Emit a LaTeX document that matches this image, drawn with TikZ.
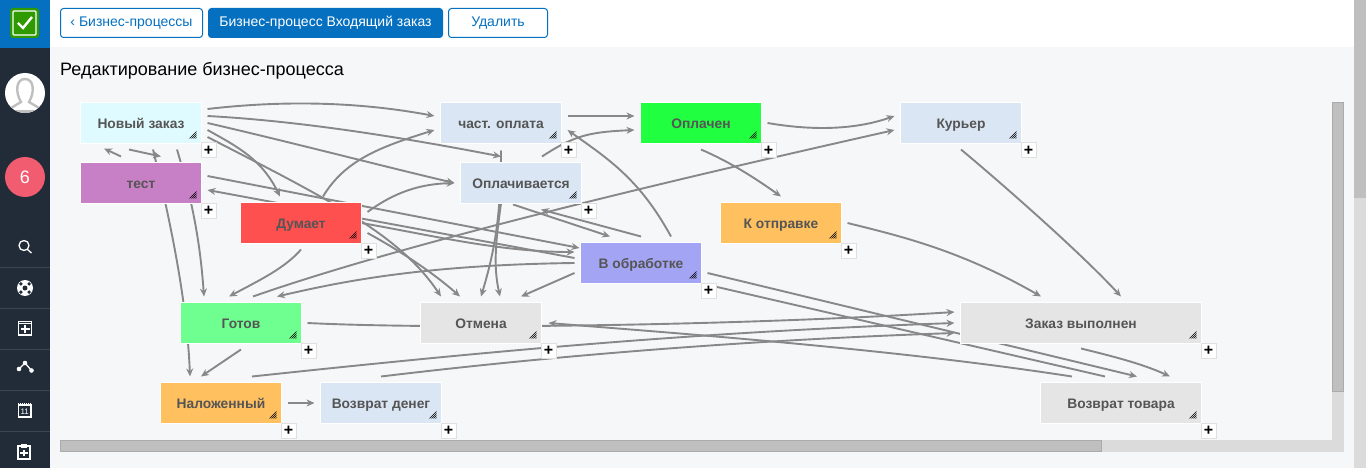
\documentclass[tikz,border=0pt]{standalone}
\usepackage{fontspec}
\setmainfont{Liberation Sans}
\usepackage{xcolor}
\usetikzlibrary{arrows.meta}

\definecolor{sidebar}{HTML}{222C38}
\definecolor{brand}{HTML}{0570C0}
\definecolor{panelbg}{HTML}{F6F7F9}
\definecolor{flowgray}{HTML}{888888}
\definecolor{labelgray}{HTML}{555555}
\definecolor{lightblue}{HTML}{DAE6F4}
\definecolor{lightcyan}{HTML}{E0FBFF}
\definecolor{lightgray}{HTML}{E5E5E5}
\definecolor{orange}{HTML}{FFC060}
\definecolor{violet}{HTML}{C77FC5}
\definecolor{redstate}{HTML}{FF5050}
\definecolor{greenpaid}{HTML}{20FF40}
\definecolor{greenready}{HTML}{6FFF90}
\definecolor{periwinkle}{HTML}{A4A4F4}
\definecolor{logogreen}{HTML}{2F9A00}
\definecolor{badgered}{HTML}{F25C70}

\pgfdeclarelayer{panel}
\pgfdeclarelayer{edges}
\pgfsetlayers{panel,edges,main}

\tikzset{
    proc/.style={draw=white, line width=1pt, fill=#1, inner sep=0pt, outer sep=0pt,
        minimum width=121pt, minimum height=41pt, text=labelgray, text height=12pt, text depth=1pt,
        font=\fontsize{13.8}{16}\selectfont\bfseries},
    plusbox/.style={draw=black!12, line width=1pt, fill=white, inner sep=0pt, outer sep=0pt,
        minimum width=15pt, minimum height=15pt, text=black,
        font=\fontsize{16}{16}\selectfont\bfseries},
    btn/.style={draw=brand, line width=1pt, rounded corners=3pt, fill=white, text=brand,
        minimum height=29pt, inner sep=0pt, outer sep=0pt, font=\fontsize{14}{16}\selectfont},
    flow/.style={->, >={Stealth[length=8pt,width=7pt]}, draw=flowgray, line width=1.9pt},
    bar/.style={fill=black!25, draw=black!33, line width=1pt},
    track/.style={fill=black!14},
    icon/.style={draw=white, line width=1.3pt}
}

\begin{document}
\begin{tikzpicture}[x=1pt, y=-1pt]
    \useasboundingbox (0,0) rectangle (1366,468);

    % page
    \begin{pgfonlayer}{panel}
        \fill[panelbg] (0,0) rectangle (1366,468);
        \fill[white] (50,0) rectangle (1354,47);
        \fill[sidebar] (0,0) rectangle (50,468);
        \fill[brand] (0,0) rectangle (50,48);
        \fill[track] (1354,0) rectangle (1366,468);
        \fill[black!25] (1354,0) rectangle (1366,198);
        \fill[track] (1332,102) rectangle (1344,452);
        \fill[track] (60,440) rectangle (1344,452);
        \filldraw[bar] (1332.5,102.5) rectangle (1343.5,391);
        \filldraw[bar] (60.5,440.5) rectangle (1101,451.5);
    \end{pgfonlayer}

    % sidebar
    \fill[logogreen, rounded corners=3pt] (10,8) rectangle (39,38);
    \draw[white, line width=1.2pt, rounded corners=1pt] (13,11) rectangle (36,35);
    \draw[white, line width=2.4pt] (18,23) -- (23,28) -- (32,17);
    \fill[white] (25,93) circle (20);
    \begin{scope}
        \clip (25,93) circle (20);
        \draw[black!25, line width=2.4pt] (11,108) -- (21,102) .. controls (15,92) and (16,79) .. (25,79)
            .. controls (34,79) and (35,92) .. (29,102) -- (39,108);
        \fill[black!25] (5,110) rectangle (45,113);
    \end{scope}
    \fill[badgered] (25,177) circle (20);
    \node (badge) [text=white, font=\fontsize{18}{20}\selectfont] at (25,177) {6};
    \foreach \y in {267,308,349,390,431}
        \draw[white!12!sidebar, line width=1pt] (0,\y) -- (50,\y);
    \draw[icon] (24,245.5) circle (5) (27.5,249.5) -- (31.5,253);
    \fill[white] (25,288) circle (8);
    \fill[sidebar] (25,288) circle (2.5);
    \foreach \a in {45,135,225,315}
        \fill[sidebar] (25,288) ++(\a:5.8) circle (1.9);
    \draw[icon] (18.5,321.5) rectangle (31.5,335) (18.5,323.5) -- (31.5,323.5);
    \draw[white, line width=2pt] (20.5,329) -- (29.5,329) (25,325) -- (25,333);
    \draw[icon] (19,369) -- (25,363) -- (31.5,370.5);
    \fill[white] (19,369) circle (2.3) (25,363) circle (2.3) (31.5,370.5) circle (2.3);
    \draw[icon] (18.5,405) rectangle (31,417);
    \draw[white, line width=2pt, dash pattern=on 1pt off 1pt] (18,404) -- (31,404);
    \node (calday) [text=white, inner sep=0pt, font=\fontsize{8}{9}\selectfont] at (24.7,411.5) {11};
    \draw[icon] (18,446) rectangle (30,459);
    \fill[white] (21,444) rectangle (27,448);
    \draw[white, line width=2pt] (20,453) -- (28,453) (24,450) -- (24,456);

    % header
    \node (backbtn) [btn, minimum width=142pt] at (131.5,23) {‹ Бизнес-процессы};
    \node (procbtn) [btn, minimum width=234pt, fill=brand, text=white] at (325.5,23) {Бизнес-процесс Входящий заказ};
    \node (delbtn) [btn, minimum width=99pt] at (498,23) {Удалить};
    \node (title) [anchor=west, inner sep=0pt, text height=14pt, text depth=4pt, font=\fontsize{18}{20}\selectfont] at (60,71) {Редактирование бизнес-процесса};

    % states
    \node (new) [proc=lightcyan] at (141,123) {Новый заказ};
    \node (test) [proc=violet] at (141,183) {тест};
    \node (thinks) [proc=redstate] at (301,223) {Думает};
    \node (partpay) [proc=lightblue] at (501,123) {част. оплата};
    \node (paying) [proc=lightblue] at (521,183) {Оплачивается};
    \node (paid) [proc=greenpaid] at (701,123) {Оплачен};
    \node (courier) [proc=lightblue] at (961,123) {Курьер};
    \node (toship) [proc=orange] at (781,223) {К отправке};
    \node (processing) [proc=periwinkle] at (641,263) {В обработке};
    \node (ready) [proc=greenready] at (241,323) {Готов};
    \node (cancel) [proc=lightgray] at (481,323) {Отмена};
    \node (done) [proc=lightgray, minimum width=241pt] at (1081,323) {Заказ выполнен};
    \node (cod) [proc=orange] at (221,403) {Наложенный};
    \node (refund) [proc=lightblue] at (381,403) {Возврат денег};
    \node (returned) [proc=lightgray, minimum width=161pt] at (1121,403) {Возврат товара};

    % resize grip and add button of every state
    \foreach \s in {new,test,thinks,partpay,paying,paid,courier,toship,processing,ready,cancel,done,cod,refund,returned} {
        \foreach \i in {0,2,4,6}
            \draw[black, line width=0.6pt] ([shift={(-12+\i,-5)}]\s.south east) -- ([shift={(-5,-12+\i)}]\s.south east);
        \node (\s plus) [plusbox] at ([shift={(7,7)}]\s.south east) {+};
    }

    % transitions
    \begin{pgfonlayer}{edges}
        \draw[flow] ([shift={(6,-14)}]new.east) .. controls (285,100) and (360,102) .. ([shift={(-6,-7)}]partpay.west);
        \draw[flow] ([shift={(6,-7)}]new.east) .. controls (300,121) and (400,137) .. ([shift={(0,13)}]partpay.south);
        \draw[flow] ([shift={(6,0)}]new.east) .. controls (290,142) and (390,168) .. ([shift={(-6,0)}]paying.west);
        \draw[flow] ([shift={(6,7)}]new.east) .. controls (240,148) and (262,160) .. ([shift={(-21,-6)}]thinks.north);
        \draw[flow] ([shift={(6,14)}]new.east) .. controls (330,200) and (400,235) .. ([shift={(-40,-6)}]cancel.north);
        \draw[flow] ([shift={(-12,6)}]new.south) -- ([shift={(20,-6)}]test.north);
        \draw[flow] ([shift={(-20,-6)}]test.north) -- ([shift={(-37,5)}]new.south);
        \draw[flow] ([shift={(12,6)}]new.south) .. controls (170,220) and (187,300) .. ([shift={(-31,-6)}]cod.north);
        \draw[flow] ([shift={(36,6)}]new.south) .. controls (192,200) and (200,240) .. ([shift={(-37,-6)}]ready.north);
        \draw[flow] ([shift={(6,-7)}]test.east) -- ([shift={(-1,-15)}]processing.west);
        \draw[flow] ([shift={(-6,-5)}]processing.west) -- ([shift={(6,7)}]test.east);
        \draw[flow] (thinks.east) .. controls (430,235) and (500,252) .. ([shift={(-6,-11)}]processing.west);
        \draw[flow] ([shift={(6,10)}]thinks.east) .. controls (395,248) and (430,270) .. ([shift={(-21,-6)}]cancel.north);
        \draw[flow] ([shift={(22,-6)}]thinks.north) .. controls (345,160) and (380,147) .. ([shift={(-6,7)}]partpay.west);
        \draw[flow] ([shift={(6,-11)}]thinks.east) .. controls (395,192) and (420,184) .. ([shift={(-6,0)}]paying.west);
        \draw[flow] ([shift={(0,6)}]thinks.south) .. controls (285,268) and (260,280) .. ([shift={(-12,-6)}]ready.north);
        \draw[flow] ([shift={(0,6)}]ready.south) -- ([shift={(-20,-6)}]cod.north);
        \draw[flow] ([shift={(6,0)}]cod.east) -- ([shift={(-6,0)}]refund.west);
        \draw[flow] ([shift={(6,0)}]ready.east) .. controls (450,330) and (750,325) .. ([shift={(-6,-11)}]done.west);
        \draw[flow] ([shift={(31,-6)}]cod.north) .. controls (500,350) and (700,332) .. ([shift={(-6,0)}]done.west);
        \draw[flow] ([shift={(0,-6)}]refund.north) .. controls (560,355) and (750,340) .. ([shift={(-6,10)}]done.west);
        \draw[flow] ([shift={(-49,-6)}]returned.north) .. controls (900,350) and (700,335) .. ([shift={(7,0)}]cancel.east);
        \draw[flow] ([shift={(6,10)}]processing.east) -- ([shift={(16,-6)}]returned.north);
        \draw[flow] ([shift={(-16,-6)}]returned.north) -- ([shift={(7,22)}]processing.east);
        \draw[flow] ([shift={(0,5)}]done.south) .. controls (1120,358) and (1145,365) .. ([shift={(49,-6)}]returned.north);
        \draw[flow] ([shift={(0,6)}]courier.south) .. controls (1000,182) and (1080,252) .. ([shift={(40,-6)}]done.north);
        \draw[flow] ([shift={(6,0)}]toship.east) .. controls (900,236) and (960,250) .. ([shift={(-40,-6)}]done.north);
        \draw[flow] ([shift={(0,6)}]paid.south) .. controls (730,162) and (755,178) .. ([shift={(0,-6)}]toship.north);
        \draw[flow] ([shift={(6,0)}]paid.east) .. controls (820,132) and (860,128) .. ([shift={(-6,-7)}]courier.west);
        \draw[flow] ([shift={(6,-7)}]partpay.east) -- ([shift={(-6,-7)}]paid.west);
        \draw[flow] ([shift={(21,-6)}]paying.north) .. controls (575,135) and (590,132) .. ([shift={(-6,7)}]paid.west);
        \draw[flow] ([shift={(30,-6)}]processing.north) .. controls (640,180) and (610,160) .. ([shift={(6,7)}]partpay.east);
        \draw[flow] ([shift={(0,-6)}]processing.north) -- ([shift={(20,6)}]paying.south);
        \draw[flow] ([shift={(-8,1)}]paying.south) -- ([shift={(-31,-6)}]processing.north);
        \draw[flow] ([shift={(0,7)}]partpay.south) .. controls (501,215) and (495,250) .. ([shift={(0,-6)}]cancel.north);
        \draw[flow] ([shift={(-20,0)}]paying.south) .. controls (496,240) and (493,265) .. ([shift={(19,-6)}]cancel.north);
        \draw[flow] ([shift={(-6,10)}]processing.west) -- ([shift={(40,-6)}]cancel.north);
        \draw[flow] ([shift={(-6,0)}]processing.west) .. controls (420,265) and (340,282) .. ([shift={(36,-6)}]ready.north);
        \draw[flow] ([shift={(12,-6)}]ready.north) .. controls (400,245) and (650,185) .. ([shift={(-6,7)}]courier.west);
    \end{pgfonlayer}
\end{tikzpicture}
\end{document}
